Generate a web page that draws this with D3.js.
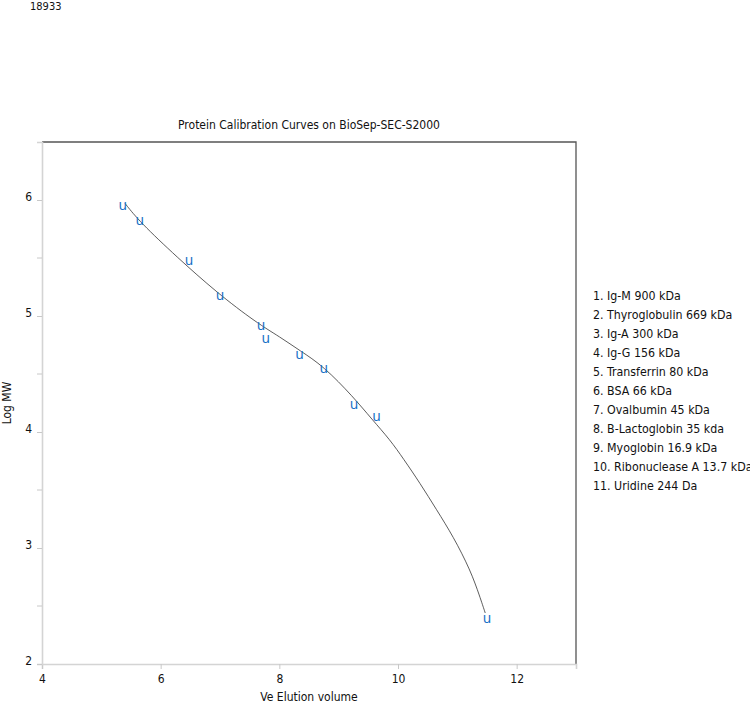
<!DOCTYPE html>
<html>
<head>
<meta charset="utf-8">
<script src="https://cdn.jsdelivr.net/npm/d3@7"></script>
<style>
  body { margin: 0; background: #fff; }
  svg text { font-family: "DejaVu Sans Condensed", "DejaVu Sans", sans-serif; font-stretch: condensed; fill: #111; }
</style>
</head>
<body>
<svg id="chart" width="750" height="702"></svg>
<script>
// Calibration standards (elution volume vs log MW)
var proteins = ["Ig-M 900 kDa", "Thyroglobulin 669 kDa", "Ig-A 300 kDa", "Ig-G 156 kDa",
  "Transferrin 80 kDa", "BSA 66 kDa", "Ovalbumin 45 kDa", "B-Lactoglobin 35 kda",
  "Myoglobin 16.9 kDa", "Ribonuclease A 13.7 kDa", "Uridine 244 Da"];
var elution = [5.36, 5.65, 6.48, 7.00, 7.69, 7.77, 8.34, 8.75, 9.26, 9.64, 11.50];
var logMW = [5.95, 5.82, 5.47, 5.17, 4.91, 4.80, 4.66, 4.54, 4.23, 4.13, 2.39];

// Fitted calibration curve
var fitX = [5.40, 5.65, 6.27, 6.95, 7.62, 8.01, 8.35, 8.74, 9.25, 9.56, 9.87, 10.09, 10.37, 10.65, 10.93, 11.22, 11.38, 11.47];
var fitY = [5.97, 5.81, 5.51, 5.20, 4.94, 4.82, 4.70, 4.57, 4.30, 4.11, 3.93, 3.77, 3.56, 3.33, 3.10, 2.81, 2.58, 2.44];

var xTicks = [4, 6, 8, 10, 12];
var yTicks = [2, 3, 4, 5, 6];
var yMinor = [2.5, 3.5, 4.5, 5.5];

(function() {
  var svg = d3.select("#chart");

  // plot box (top is a reserved window name, so use pTop etc.)
  var pLeft = 42, pRight = 576, pTop = 142, pBottom = 664;

  var x = d3.scaleLinear().domain([4, 13]).range([pLeft, pRight]);
  var y = d3.scaleLinear().domain([2, 6.5]).range([pBottom, pTop]);

  // corner label
  svg.append("text").attr("x", 30).attr("y", 10).attr("font-size", 11).text("18933");

  // title
  svg.append("text")
    .attr("x", (pLeft + pRight) / 2).attr("y", 129)
    .attr("text-anchor", "middle").attr("font-size", 12)
    .text("Protein Calibration Curves on BioSep-SEC-S2000");

  // frame: top and right dark
  svg.append("path")
    .attr("d", "M" + pLeft + "," + pTop + "H" + pRight + "V" + pBottom)
    .attr("fill", "none").attr("stroke", "#555").attr("stroke-width", 1.3);

  // bottom axis
  var gx = svg.append("g").attr("transform", "translate(0," + pBottom + ")")
    .call(d3.axisBottom(x).tickValues(xTicks).tickSize(5).tickPadding(5).tickFormat(d3.format("d")));
  gx.select(".domain").attr("stroke", "#d4d4d4").attr("stroke-width", 1.6);
  gx.selectAll(".tick line").attr("stroke", "#c8c8c8");
  gx.selectAll(".tick text").attr("font-size", 12).attr("fill", "#111");

  // left axis with minor ticks
  var gy = svg.append("g").attr("transform", "translate(" + pLeft + ",0)")
    .call(d3.axisLeft(y).tickValues(yTicks).tickSize(5).tickPadding(5).tickFormat(d3.format("d")));
  gy.select(".domain").attr("stroke", "#d4d4d4").attr("stroke-width", 1.6);
  gy.selectAll(".tick line").attr("stroke", "#c8c8c8");
  gy.selectAll(".tick text").attr("font-size", 12).attr("fill", "#111").attr("dy", "0.05em");

  svg.append("g").selectAll("line").data(yMinor).enter().append("line")
    .attr("x1", pLeft - 5).attr("x2", pLeft)
    .attr("y1", function(d) { return y(d); }).attr("y2", function(d) { return y(d); })
    .attr("stroke", "#c8c8c8");

  // axis titles
  svg.append("text").attr("transform", "translate(11," + ((pTop + pBottom) / 2) + ") rotate(-90)")
    .attr("text-anchor", "middle").attr("font-size", 12).text("Log MW");
  svg.append("text").attr("x", (pLeft + pRight) / 2).attr("y", 701)
    .attr("text-anchor", "middle").attr("font-size", 12).text("Ve Elution volume");

  // the fitted curve, smoothed
  var fit = fitX.map(function(d, i) { return [d, fitY[i]]; });
  var line = d3.line()
    .x(function(d) { return x(d[0]); })
    .y(function(d) { return y(d[1]); })
    .curve(d3.curveBasis);
  svg.append("path").datum(fit)
    .attr("fill", "none").attr("stroke", "#333").attr("stroke-width", 0.8)
    .attr("d", line);

  // markers drawn as "u" glyphs
  svg.append("g").selectAll("text").data(elution).enter().append("text")
    .attr("x", function(d) { return x(d); })
    .attr("y", function(d, i) { return y(logMW[i]) + 3.8; })
    .attr("text-anchor", "middle")
    .style("font-family", "'DejaVu Sans', sans-serif")
    .style("font-stretch", "normal")
    .style("font-size", "13.5px")
    .style("fill", "#1670c6")
    .text("u");

  // legend
  svg.append("g").selectAll("text").data(proteins).enter().append("text")
    .attr("x", 593)
    .attr("y", function(d, i) { return 300 + i * 19; })
    .attr("font-size", 12.3)
    .text(function(d, i) { return (i + 1) + ". " + d; });
})();
</script>
</body>
</html>
